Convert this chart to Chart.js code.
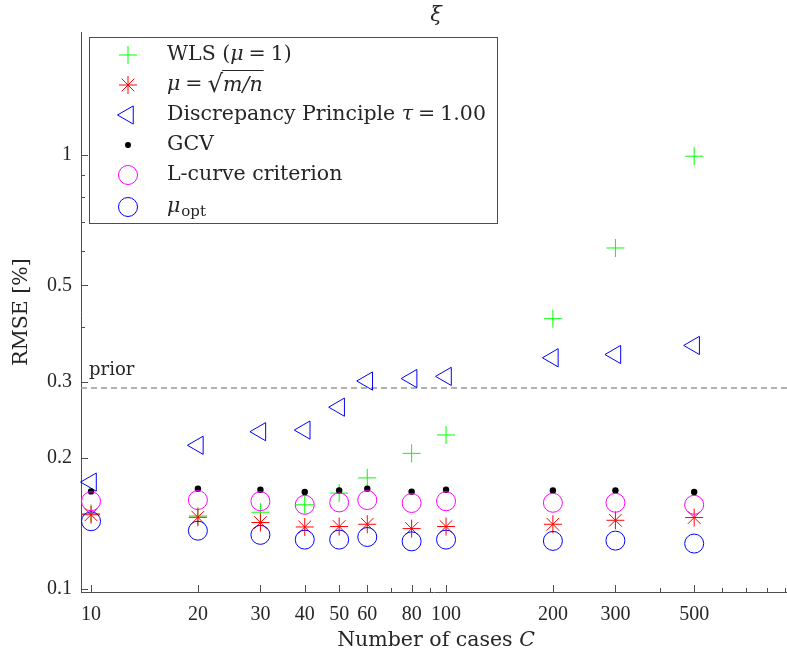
<!DOCTYPE html>
<html>
<head>
<meta charset="utf-8">
<script src="https://cdn.jsdelivr.net/npm/chart.js@4/dist/chart.umd.min.js"></script>
<style>
  body { margin: 0; background: #fff; }
  #wrap { width: 787px; height: 655px; position: relative; }
</style>
</head>
<body>
<div id="wrap"><canvas id="rmseChart"></canvas></div>
<script>
// data
var cases = [10, 20, 30, 40, 50, 60, 80, 100, 200, 300, 500];
var wls = [0.149, 0.147, 0.150, 0.156, 0.166, 0.180, 0.205, 0.226, 0.419, 0.610, 0.993];
var sqrtMN = [0.148, 0.146, 0.142, 0.1387, 0.139, 0.1407, 0.1375, 0.139, 0.1407, 0.1437, 0.1458];
var discrepancy = [0.176, 0.214, 0.230, 0.232, 0.262, 0.301, 0.305, 0.3085, 0.3405, 0.3465, 0.3636];
var gcv = [0.1675, 0.170, 0.169, 0.167, 0.1684, 0.170, 0.1673, 0.169, 0.1684, 0.1684, 0.167];
var lcurve = [0.159, 0.160, 0.159, 0.156, 0.158, 0.160, 0.1575, 0.159, 0.1577, 0.1577, 0.156];
var muOpt = [0.143, 0.136, 0.133, 0.1297, 0.1297, 0.1315, 0.1285, 0.1297, 0.1288, 0.129, 0.127];
var priorValue = 0.29;

// ticks
var xLabelTicks = [10, 20, 30, 40, 50, 60, 80, 100, 200, 300, 500];
var xMinorTicks = [70, 90, 400, 600, 700, 800, 900];
var yLabelTicks = [0.1, 0.2, 0.3, 0.5, 1];
var yMinorTicks = [0.4, 0.6, 0.7, 0.8, 0.9];

var xMin = 9.37, xMax = 913;
var yMin = 0.0982, yMax = 1.92;

var serif = "'Liberation Serif', serif";
var wordFont = "'DejaVu Serif', serif";
var textColor = '#262626';
var axisColor = '#4d4d4d';

function pts(vals) {
    return cases.map(function (c, i) { return { x: c, y: vals[i] }; });
}

// legend entries: marker style + rich text pieces ('g' = gap in px)
var legendRows = [
    { style: 'cross', color: '#00ff00', radius: 9, rot: 0,
      text: [['WLS (', 'n'], ['\u03bc', 'i'], [5, 'g'], ['=', 'n'], [5, 'g'], ['1)', 'n']] },
    { style: 'star', color: '#ff0000', radius: 9, rot: 0, sqrt: true },
    { style: 'triangle', color: '#0000ff', radius: 10.5, rot: 270,
      text: [['Discrepancy Principle ', 'n'], ['\u03c4', 'i'], [5, 'g'], ['=', 'n'], [5, 'g'], ['1.00', 'n']] },
    { style: 'dot', color: '#000000', radius: 3, rot: 0, text: [['GCV', 'n']] },
    { style: 'circle', color: '#ff00ff', radius: 9.5, rot: 0, text: [['L-curve criterion', 'n']] },
    { style: 'circle', color: '#0000ff', radius: 9.5, rot: 0, sub: true }
];

function setFont(ctx, kind, size) {
    ctx.font = (kind === 'i' ? 'italic ' : '') + size + 'px ' + wordFont;
}

function drawPieces(ctx, x, y, pieces, size) {
    pieces.forEach(function (p) {
        if (p[1] === 'g') { x += p[0]; return; }
        setFont(ctx, p[1], size);
        ctx.fillText(p[0], x, y);
        x += ctx.measureText(p[0]).width;
    });
    return x;
}

var decor = {
    id: 'decor',
    afterDraw: function (chart) {
        var ctx = chart.ctx;
        var xs = chart.scales.x, ys = chart.scales.y;
        var area = chart.chartArea;
        ctx.save();

        // inward ticks
        ctx.strokeStyle = axisColor;
        ctx.lineWidth = 1;
        xs.ticks.forEach(function (t) {
            var px = Math.round(xs.getPixelForValue(t.value)) + 0.5;
            var len = xLabelTicks.indexOf(t.value) >= 0 ? 7 : 4;
            ctx.beginPath();
            ctx.moveTo(px, area.bottom);
            ctx.lineTo(px, area.bottom - len);
            ctx.stroke();
        });
        ys.ticks.forEach(function (t) {
            var py = Math.round(ys.getPixelForValue(t.value)) + 0.5;
            var len = yLabelTicks.indexOf(t.value) >= 0 ? 7 : 4;
            ctx.beginPath();
            ctx.moveTo(area.left, py);
            ctx.lineTo(area.left + len, py);
            ctx.stroke();
        });

        ctx.fillStyle = textColor;
        ctx.textBaseline = 'middle';

        // title
        ctx.textAlign = 'center';
        setFont(ctx, 'i', 21);
        ctx.fillText('\u03be', (area.left + area.right) / 2 + 2, 16);

        // x title
        var parts = [['Number of cases ', 'n'], ['C', 'i']];
        var w = 0;
        parts.forEach(function (p) { setFont(ctx, p[1], 20.5); w += ctx.measureText(p[0]).width; });
        ctx.textAlign = 'left';
        drawPieces(ctx, (area.left + area.right) / 2 + 2 - w / 2, 641, parts, 20.5);

        // y title
        ctx.save();
        ctx.translate(22, 312);
        ctx.rotate(-Math.PI / 2);
        ctx.textAlign = 'center';
        setFont(ctx, 'n', 20.5);
        ctx.fillText('RMSE [%]', 0, 0);
        ctx.restore();

        // prior label
        ctx.textAlign = 'left';
        ctx.textBaseline = 'alphabetic';
        setFont(ctx, 'n', 18);
        ctx.fillText('prior', area.left + 8, ys.getPixelForValue(priorValue) - 13);

        // legend box
        var bx = 89.5, by = 37.5, bw = 408, bh = 186;
        ctx.fillStyle = '#ffffff';
        ctx.fillRect(bx, by, bw, bh);
        ctx.strokeStyle = axisColor;
        ctx.lineWidth = 1;
        ctx.strokeRect(bx, by, bw, bh);

        var mx = 128, tx = 167, size = 20.5;
        legendRows.forEach(function (row, i) {
            var ry = 55 + i * 30 + (i === 5 ? 2 : 0);
            // marker
            ctx.strokeStyle = row.color;
            ctx.lineWidth = 1;
            if (row.style === 'dot') {
                ctx.fillStyle = row.color;
                ctx.beginPath();
                ctx.arc(mx, ry, row.radius, 0, Math.PI * 2);
                ctx.fill();
            } else {
                ctx.fillStyle = 'rgba(0,0,0,0)';
                Chart.helpers.drawPoint(ctx, {
                    pointStyle: row.style, radius: row.radius, rotation: row.rot, borderWidth: 1
                }, mx, ry);
            }
            // text
            ctx.fillStyle = textColor;
            ctx.textBaseline = 'middle';
            ctx.textAlign = 'left';
            if (row.text) {
                drawPieces(ctx, tx, ry, row.text, size);
            } else if (row.sqrt) {
                var x = drawPieces(ctx, tx, ry, [['\u03bc', 'i'], [5, 'g'], ['=', 'n'], [5, 'g']], size);
                setFont(ctx, 'n', size + 4);
                ctx.fillText('\u221a', x, ry + 1);
                var rw = ctx.measureText('\u221a').width;
                var x2 = drawPieces(ctx, x + rw, ry + 1, [['m/n', 'i']], size);
                ctx.strokeStyle = textColor;
                ctx.beginPath();
                ctx.moveTo(x + rw - 1, ry - 14.5);
                ctx.lineTo(x2 + 1, ry - 14.5);
                ctx.stroke();
            } else if (row.sub) {
                var xe = drawPieces(ctx, tx, ry, [['\u03bc', 'i']], size);
                setFont(ctx, 'n', 15);
                ctx.fillText('opt', xe + 1, ry + 5);
            }
        });
        ctx.restore();
    }
};

var ctx = document.getElementById('rmseChart').getContext('2d');
new Chart(ctx, {
    type: 'scatter',
    data: {
        datasets: [
            { label: 'prior', type: 'line', data: [{ x: xMin, y: priorValue }, { x: xMax, y: priorValue }],
              borderColor: '#999999', borderWidth: 1.5, borderDash: [6, 4], pointRadius: 0, order: 10 },
            { label: 'WLS', data: pts(wls), pointStyle: 'cross', pointRadius: 9, borderColor: '#00ff00',
              pointBorderWidth: 1, order: 6 },
            { label: 'sqrt', data: pts(sqrtMN), pointStyle: 'star', pointRadius: 9, borderColor: '#ff0000',
              pointBorderWidth: 1, order: 5 },
            { label: 'Discrepancy', data: pts(discrepancy), pointStyle: 'triangle', pointRotation: 270,
              pointRadius: 10.5, borderColor: '#0000ff', backgroundColor: 'rgba(0,0,0,0)', pointBorderWidth: 1, order: 4 },
            { label: 'GCV', data: pts(gcv), pointStyle: 'circle', pointRadius: 3.2, borderColor: '#000000',
              backgroundColor: '#000000', pointBorderWidth: 0, order: 3 },
            { label: 'L-curve', data: pts(lcurve), pointStyle: 'circle', pointRadius: 9.5, borderColor: '#ff00ff',
              backgroundColor: 'rgba(0,0,0,0)', pointBorderWidth: 1, order: 2 },
            { label: 'opt', data: pts(muOpt), pointStyle: 'circle', pointRadius: 9.5, borderColor: '#0000ff',
              backgroundColor: 'rgba(0,0,0,0)', pointBorderWidth: 1, order: 1 }
        ]
    },
    options: {
        responsive: true,
        maintainAspectRatio: false,
        animation: false,
        devicePixelRatio: 1,
        clip: false,
        layout: { autoPadding: false, padding: { top: 32, right: 0, left: 0, bottom: 0 } },
        plugins: { legend: { display: false }, title: { display: false }, tooltip: { enabled: false } },
        elements: { point: { hoverRadius: 9 } },
        scales: {
            x: {
                type: 'logarithmic', min: xMin, max: xMax,
                grid: { display: true, drawOnChartArea: false, drawTicks: false },
                border: { display: true, color: axisColor, width: 1 },
                afterBuildTicks: function (s) {
                    s.ticks = xLabelTicks.concat(xMinorTicks).sort(function (a, b) { return a - b; })
                        .map(function (v) { return { value: v }; });
                },
                afterFit: function (s) { s.height = 63; s.paddingRight = 0; s.paddingLeft = 0; },
                ticks: {
                    autoSkip: false, maxRotation: 0, padding: 11, color: textColor,
                    font: { family: serif, size: 20 },
                    callback: function (v) { return xLabelTicks.indexOf(v) >= 0 ? String(v) : ''; }
                }
            },
            y: {
                type: 'logarithmic', min: yMin, max: yMax,
                grid: { display: true, drawOnChartArea: false, drawTicks: false },
                border: { display: true, color: axisColor, width: 1 },
                afterBuildTicks: function (s) {
                    s.ticks = yLabelTicks.concat(yMinorTicks).sort(function (a, b) { return a - b; })
                        .map(function (v) { return { value: v }; });
                },
                afterFit: function (s) { s.width = 81; s.paddingTop = 0; s.paddingBottom = 0; },
                ticks: {
                    autoSkip: false, padding: 9, color: textColor,
                    font: { family: serif, size: 20 },
                    callback: function (v) { return yLabelTicks.indexOf(v) >= 0 ? String(v) : ''; }
                }
            }
        }
    },
    plugins: [decor]
});
</script>
</body>
</html>
